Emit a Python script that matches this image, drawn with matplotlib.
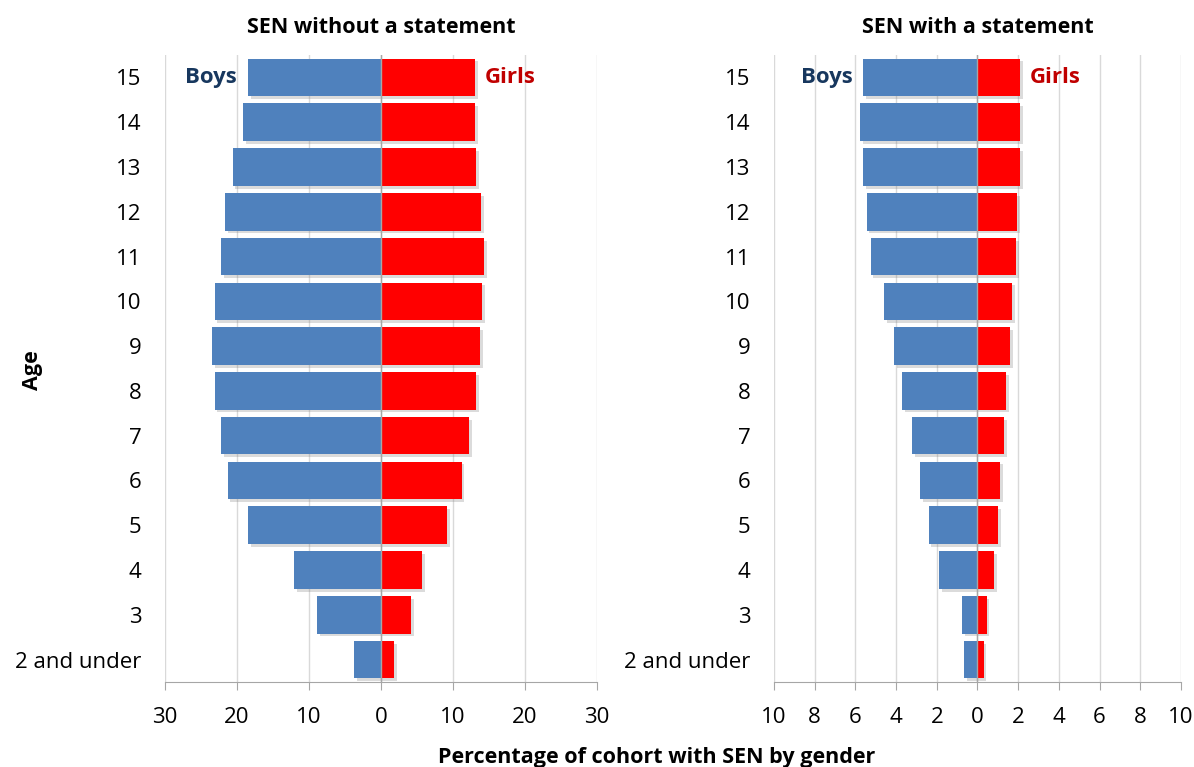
import numpy as np
import matplotlib
matplotlib.use("Agg")
import matplotlib.pyplot as plt
import matplotlib.patheffects as pe

plt.rcParams['font.family'] = ['Open Sans', 'DejaVu Sans']

# data (percent of cohort)
ages = ["2 and under", "3", "4", "5", "6", "7", "8", "9", "10", "11", "12", "13", "14", "15"]

boys_without = [3.75, 8.9, 12.1, 18.5, 21.3, 22.2, 23.1, 23.5, 23.1, 22.2, 21.7, 20.6, 19.2, 18.5]
girls_without = [1.8, 4.2, 5.7, 9.2, 11.2, 12.2, 13.2, 13.8, 14.0, 14.3, 13.9, 13.2, 13.1, 13.1]

boys_with = [0.65, 0.75, 1.9, 2.4, 2.8, 3.2, 3.7, 4.1, 4.6, 5.25, 5.45, 5.6, 5.75, 5.6]
girls_with = [0.3, 0.45, 0.8, 1.0, 1.1, 1.3, 1.4, 1.6, 1.7, 1.9, 1.95, 2.1, 2.1, 2.1]

blue = "#4F81BD"
red = "#FF0000"
grid_c = "#D9D9D9"

fig = plt.figure(figsize=(11.94, 7.67), dpi=100)
ax1 = fig.add_axes([0.1382, 0.1108, 0.3618, 0.8175])
ax2 = fig.add_axes([0.6482, 0.1108, 0.3409, 0.8175])

shadow = [pe.SimplePatchShadow(offset=(2, -2), shadow_rgbFace="#888888", alpha=0.3), pe.Normal()]


def pyramid(ax, boys, girls, lim, step, title):
    y = np.arange(len(ages))
    b = ax.barh(y, -np.array(boys), height=0.84, color=blue, zorder=3)
    g = ax.barh(y, girls, height=0.84, color=red, zorder=3)
    for p in list(b) + list(g):
        p.set_path_effects(shadow)
    ax.set_xlim(-lim, lim)
    ax.set_ylim(-0.5, len(ages) - 0.5)
    ticks = np.arange(-lim, lim + step, step)
    ax.set_xticks(ticks)
    ax.set_xticklabels([str(abs(int(t))) for t in ticks], fontsize=16)
    ax.set_yticks(y)
    ax.set_yticklabels(ages, fontsize=16)
    ax.tick_params(axis='y', length=0, pad=17)
    ax.tick_params(axis='x', length=6, color="#A6A6A6", pad=12)
    ax.grid(axis='x', color=grid_c, lw=1, zorder=0)
    ax.axvline(0, color="#A6A6A6", lw=1, zorder=4)
    for s in ['top', 'right', 'left']:
        ax.spines[s].set_visible(False)
    ax.spines['bottom'].set_color("#A6A6A6")
    ax.set_title(title, fontsize=15.5, fontweight='bold', pad=16)
    # Boys / Girls labels beside the top bar
    ax.annotate("Boys", (-boys[-1], y[-1]), xytext=(-8, 0), textcoords='offset points',
                ha='right', va='center', fontsize=16, fontweight='bold', color="#17375E")
    ax.annotate("Girls", (girls[-1], y[-1]), xytext=(7, 0), textcoords='offset points',
                ha='left', va='center', fontsize=16, fontweight='bold', color="#C00000")


pyramid(ax1, boys_without, girls_without, 30, 10, "SEN without a statement")
pyramid(ax2, boys_with, girls_with, 10, 2, "SEN with a statement")

fig.text(0.027, 0.518, "Age", rotation=90, ha='center', va='center', fontsize=15.5, fontweight='bold')
fig.text(0.55, 0.012, "Percentage of cohort with SEN by gender", ha='center', va='center',
         fontsize=15.5, fontweight='bold')

fig.savefig("out.png", dpi=100)
